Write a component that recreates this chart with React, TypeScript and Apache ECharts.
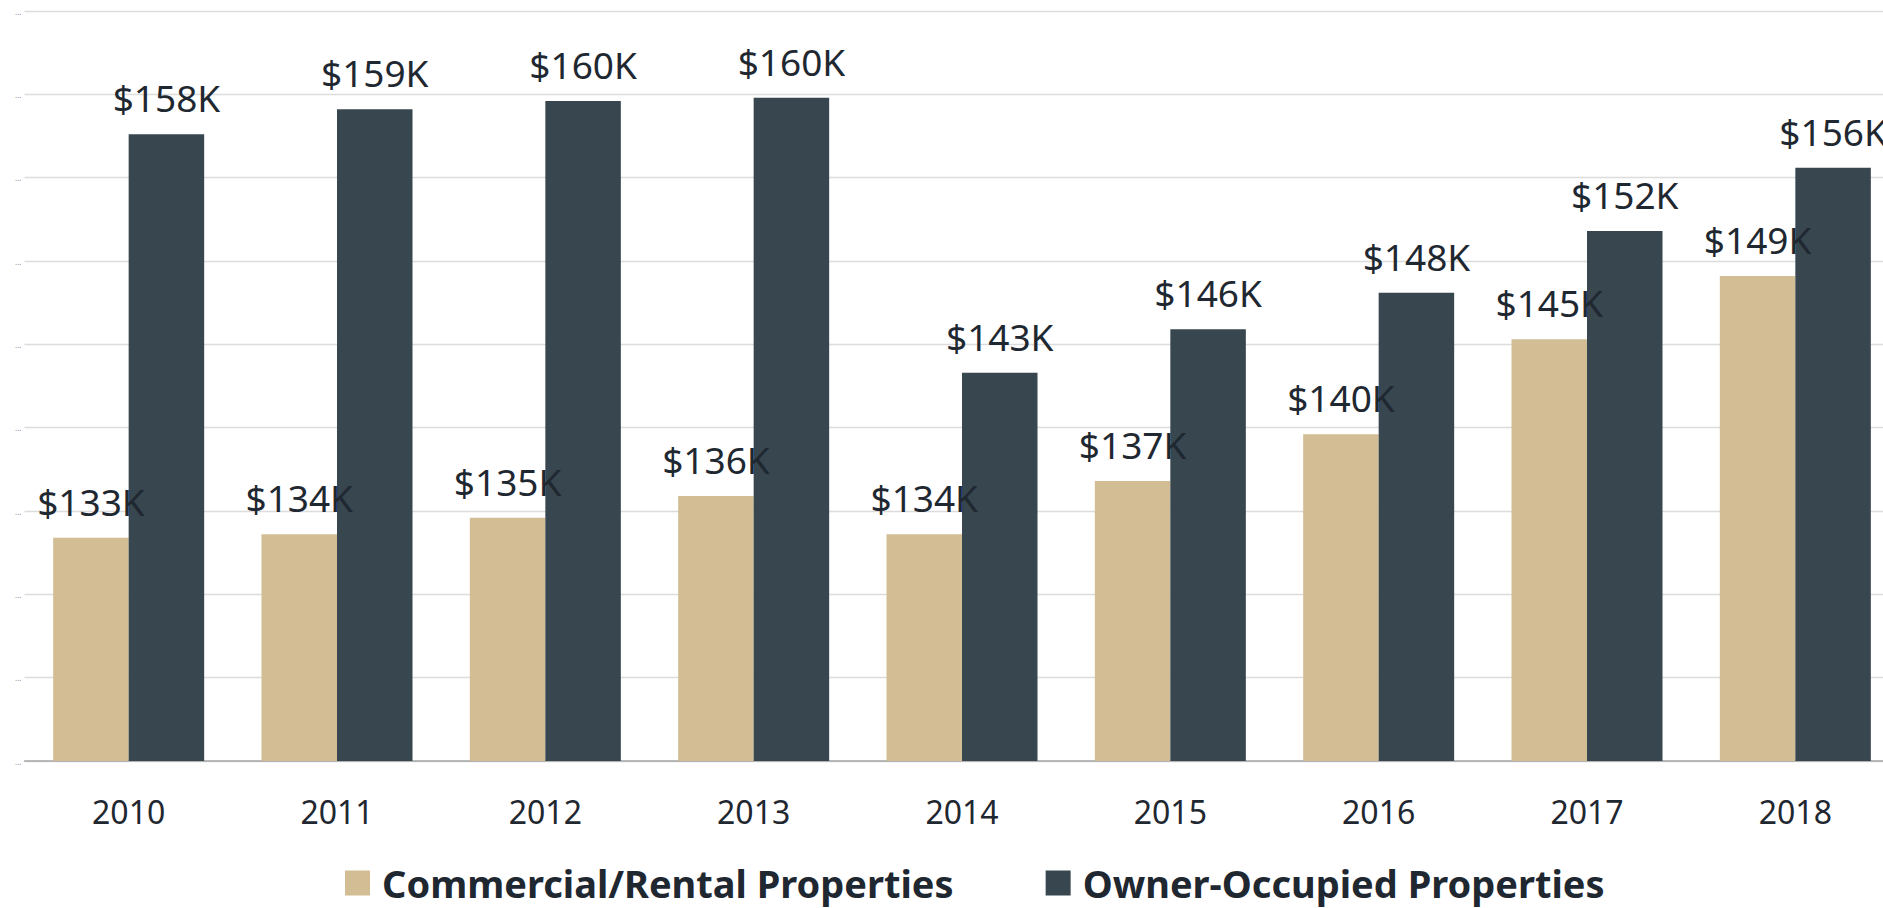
import React, { useEffect, useRef } from "react";
import * as echarts from "echarts";

const years = ["2010", "2011", "2012", "2013", "2014", "2015", "2016", "2017", "2018"];
const commercialValues = [133.4, 133.6, 134.6, 135.9, 133.6, 136.8, 139.6, 145.3, 149.1];
const ownerValues = [157.6, 159.1, 159.6, 159.8, 143.3, 145.9, 148.1, 151.8, 155.6];
const seriesNames = ["Commercial/Rental Properties", "Owner-Occupied Properties"];

const TAN = "#d2bd95";
const SLATE = "#37464f";
const TEXT = "#1f2831";
const FONT = "'Noto Sans', sans-serif";

export default function App() {
  const ref = useRef<HTMLDivElement>(null);

  useEffect(() => {
    document.body.style.margin = "0";
    document.body.style.overflow = "hidden";
    if (!ref.current) return;
    const chart = echarts.init(ref.current, undefined, { renderer: "svg" });
    const label = {
      show: true,
      position: "top" as const,
      distance: 18,
      fontFamily: FONT,
      fontSize: 37,
      color: TEXT,
      formatter: (p: any) => "$" + Math.round(p.value) + "K",
    };
    chart.setOption({
      animation: false,
      backgroundColor: "#ffffff",
      grid: { left: 24.5, top: 11, width: 1875, height: 750, containLabel: false },
      legend: {
        data: seriesNames,
        left: 340,
        top: 859,
        itemWidth: 25,
        itemHeight: 25,
        itemGap: 92,
        icon: "rect",
        textStyle: {
          fontFamily: FONT,
          fontSize: 38,
          fontWeight: "bold",
          color: TEXT,
          padding: [0, 0, 0, 7],
        },
      },
      xAxis: {
        type: "category",
        data: years,
        axisLine: { lineStyle: { color: "#a6a6a6", width: 1.5 } },
        axisTick: { show: false },
        axisLabel: { fontFamily: FONT, fontSize: 32, color: TEXT, margin: 34 },
      },
      yAxis: {
        type: "value",
        min: 120,
        max: 165,
        interval: 5,
        axisLine: { show: false },
        axisTick: { show: false },
        splitLine: { lineStyle: { color: "#dcdcdc", width: 1.3 } },
        axisLabel: {
          formatter: () => "...",
          fontFamily: FONT,
          fontSize: 8,
          color: "#8a8a8a",
          margin: 3,
        },
      },
      series: [
        {
          name: seriesNames[0],
          type: "bar",
          data: commercialValues,
          barWidth: 75.5,
          barGap: "0%",
          itemStyle: { color: TAN },
          label,
        },
        {
          name: seriesNames[1],
          type: "bar",
          data: ownerValues,
          barWidth: 75.5,
          barGap: "0%",
          itemStyle: { color: SLATE },
          label,
        },
      ],
    });
    return () => chart.dispose();
  }, []);

  return (
    <div style={{ position: "fixed", left: 0, top: 0, width: 1883, height: 908, overflow: "hidden", background: "#fff" }}>
      <div ref={ref} style={{ width: 1910, height: 908 }} />
    </div>
  );
}
